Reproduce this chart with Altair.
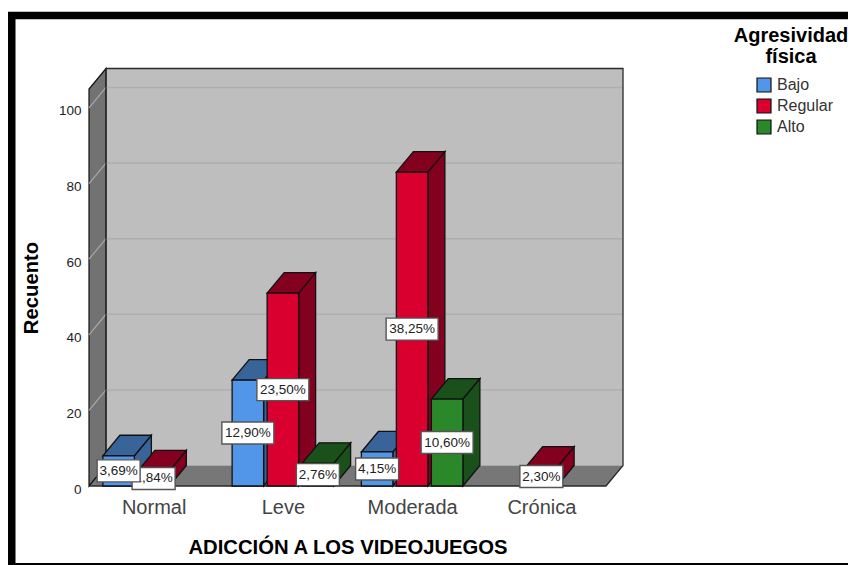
import altair as alt
import pandas as pd

categories = ["Normal", "Leve", "Moderada", "Crónica"]
series = ["Bajo", "Regular", "Alto"]
front_colors = ["#5196e8", "#d9002f", "#2a882b"]
side_colors = ["#386499", "#83001f", "#1a5019"]
counts_bajo = [8, 28, 9, 0]
counts_regular = [4, 51, 83, 5]
counts_alto = [0, 6, 23, 0]
labels_bajo = ["3,69%", "12,90%", "4,15%", ""]
labels_regular = ["1,84%", "23,50%", "38,25%", "2,30%"]
labels_alto = ["", "2,76%", "10,60%", ""]
y_ticks = [0, 20, 40, 60, 80, 100]
y_top = 105

PX_X = 129.25   # px per category unit
PX_Y = 3.78     # px per count
DX = 17 / PX_X
DY = 20.5 / PX_Y
STEP = 35 / PX_X
BAR_W = 31.5 / PX_X

counts = [counts_bajo, counts_regular, counts_alto]
labels = [labels_bajo, labels_regular, labels_alto]
rows = []
for s, name in enumerate(series):
    for c, cat in enumerate(categories):
        v = counts[s][c]
        if v == 0:
            continue
        mid = c + 0.5 + (s - 1) * STEP
        lab = labels[s][c]
        rows.append(dict(id=f"{cat}-{name}", serie=name, cat=cat, v=v, x0=mid - BAR_W / 2,
                         x1=mid + BAR_W / 2, mid=mid, side=side_colors[s], label=lab,
                         half=(52 if len(lab) == 6 else 43) / 2 / PX_X))
bars = pd.DataFrame(rows)

FONT = "Liberation Sans"
xs = alt.Scale(domain=[0, 4], nice=False, zero=False)
ys = alt.Scale(domain=[0, y_top], nice=False, zero=False)
x_axis = alt.Axis(
    title="ADICCIÓN A LOS VIDEOJUEGOS", values=[0.5, 1.5, 2.5, 3.5],
    labelExpr="['Normal','Leve','Moderada','Crónica'][floor(datum.value)]",
    domain=False, ticks=False, grid=False, labelFontSize=20, labelColor="#444444",
    labelFont=FONT, labelPadding=11, labelOverlap=False, labelFlush=False,
    titleFont=FONT, titleFontSize=20.25, titleFontWeight="bold", titleColor="black",
    titleY=71, titleBaseline="bottom")
y_axis = alt.Axis(
    title="Recuento", values=y_ticks, domain=False, ticks=False, grid=False,
    labelFontSize=13.5, labelColor="#222222", labelFont=FONT, labelPadding=8, labelOffset=3,
    titleFont=FONT, titleFontSize=20.25, titleFontWeight="bold", titleColor="black",
    titleX=-58, titleBaseline="middle")
X = lambda f="x": alt.X(f"{f}:Q", scale=xs, axis=x_axis)
Y = lambda f="y": alt.Y(f"{f}:Q", scale=ys, axis=y_axis, stack=None)

wall = pd.DataFrame([dict(x=DX, x2=4 + DX, y=DY, y2=y_top + DY)])
back = alt.Chart(wall).mark_rect(color="#bebebe").encode(x=X(), x2="x2:Q", y=Y(), y2="y2:Q")

floor = alt.Chart(pd.DataFrame([dict(x=0, x2=4, y=0), dict(x=DX, x2=4 + DX, y=DY)])).mark_area(
    orient="horizontal", color="#777777").encode(y=Y(), x=X(), x2="x2:Q")

left = alt.Chart(pd.DataFrame([dict(x=0, y=0, y2=y_top), dict(x=DX, y=DY, y2=y_top + DY)])).mark_area(
    orient="vertical", color="#727272", stroke="#111111", strokeWidth=1.2).encode(x=X(), y=Y(), y2="y2:Q")

grid_back = pd.DataFrame([dict(x=DX, x2=4 + DX, y=t + DY) for t in y_ticks[1:]])
grid1 = alt.Chart(grid_back).mark_rule(color="#aeaeae", strokeWidth=1.5).encode(x=X(), x2="x2:Q", y=Y())
grid_left = pd.DataFrame([r for t in y_ticks[1:] for r in (dict(t=t, x=0, y=t), dict(t=t, x=DX, y=t + DY))])
grid2 = alt.Chart(grid_left).mark_line(color="#a8a8a8", strokeWidth=1.2).encode(x=X(), y=Y(), detail="t:N")

path = [(DX, DY), (DX, y_top + DY), (4 + DX, y_top + DY), (4 + DX, DY), (4, 0), (0, 0)]
outline = alt.Chart(pd.DataFrame([dict(o=i, x=p[0], y=p[1]) for i, p in enumerate(path)])).mark_line(
    color="#2a2a2a", strokeWidth=1.3).encode(x=X(), y=Y(), order="o:Q")

side_rows, top_rows = [], []
for r in rows:
    side_rows += [dict(id=r["id"], c=r["side"], x=r["x1"], y=0, y2=r["v"]),
                  dict(id=r["id"], c=r["side"], x=r["x1"] + DX, y=DY, y2=r["v"] + DY)]
    top_rows += [dict(id=r["id"], c=r["side"], y=r["v"], x=r["x0"], x2=r["x1"]),
                 dict(id=r["id"], c=r["side"], y=r["v"] + DY, x=r["x0"] + DX, x2=r["x1"] + DX)]

sides = alt.Chart(pd.DataFrame(side_rows)).mark_area(orient="vertical", stroke="#111111", strokeWidth=1.3).encode(
    x=X(), y=Y(), y2="y2:Q", detail="id:N", fill=alt.Fill("c:N", scale=None))
tops = alt.Chart(pd.DataFrame(top_rows)).mark_area(orient="horizontal", stroke="#111111", strokeWidth=1.3).encode(
    y=Y(), x=X(), x2="x2:Q", detail="id:N", fill=alt.Fill("c:N", scale=None))
fronts = alt.Chart(bars).transform_calculate(zero="0").mark_rect(stroke="#111111", strokeWidth=1.3).encode(
    x=X("x0"), x2="x1:Q", y=Y("v"), y2="zero:Q",
    color=alt.Color("serie:N", scale=alt.Scale(domain=series, range=front_colors),
                    title=["Agresividad", "física"],
                    legend=alt.Legend(orient="none", legendX=645, legendY=-63, titleFont=FONT, titleFontSize=20,
                                      titleFontWeight="bold", titleColor="black", titleAlign="center",
                                      titleAnchor="middle", titleLineHeight=20.5, titlePadding=10.5,
                                      labelFont=FONT, labelFontSize=16, labelColor="#333333",
                                      symbolType="square", symbolSize=196, symbolStrokeColor="#111111",
                                      symbolStrokeWidth=1.2, symbolOffset=7, labelOffset=5,
                                      rowPadding=1, padding=0)),
)


def label_layers(df):
    d = df.assign(xa=df.mid - df.half, xb=df.mid + df.half, ya=df.v / 2 - 11 / PX_Y, yb=df.v / 2 + 11 / PX_Y,
                  ym=df.v / 2)
    box = alt.Chart(d).mark_rect(fill="white", stroke="#555555", strokeWidth=1.4).encode(
        x=X("xa"), x2="xb:Q", y=Y("ya"), y2="yb:Q")
    txt = alt.Chart(d).mark_text(font=FONT, fontSize=13.5, color="#222222").encode(
        x=X("mid"), y=Y("ym"), text="label:N")
    return [box, txt]


first = bars[bars.label != "3,69%"]
last = bars[bars.label == "3,69%"]

fr = pd.DataFrame([dict(a=1)])
frame = [
    alt.Chart(fr).mark_rule(color="black", strokeWidth=7.5).encode(x=alt.value(-81), x2=alt.value(767), y=alt.value(-73.5)),
    alt.Chart(fr).mark_rule(color="black", strokeWidth=7.5).encode(x=alt.value(-77.25), y=alt.value(-77), y2=alt.value(476)),
    alt.Chart(fr).mark_rule(color="black", strokeWidth=3).encode(x=alt.value(-81), x2=alt.value(767), y=alt.value(475.5)),
]

chart = alt.layer(back, floor, left, grid1, grid2, outline, sides, tops, fronts,
                  *label_layers(first), *label_layers(last), *frame).properties(
    width=517, height=397, background="white",
    padding={"left": 81, "top": 81, "right": 242, "bottom": 79},
    autosize=alt.AutoSizeParams(type="none"),
).configure_view(stroke=None)

chart.save("out.html", embed_options={"renderer": "svg", "actions": False})
